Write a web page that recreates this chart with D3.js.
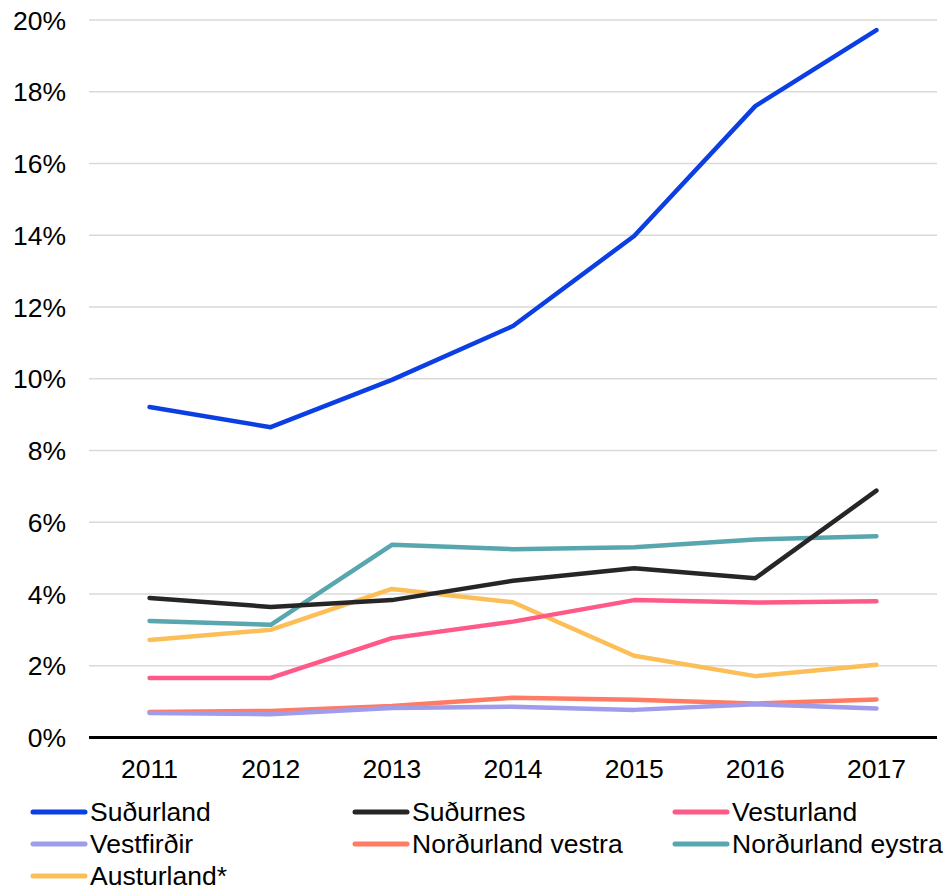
<!DOCTYPE html>
<html><head><meta charset="utf-8">
<script src="https://cdn.jsdelivr.net/npm/d3@7"></script>
<style>body{margin:0;background:#fff}svg{display:block;font-family:"Liberation Sans",Arial,sans-serif}</style>
</head><body><svg id="c" width="944" height="885"></svg>
<script>
const years = ["2011","2012","2013","2014","2015","2016","2017"];
const seriesNames = ["Suðurland","Suðurnes","Vesturland","Vestfirðir","Norðurland vestra","Norðurland eystra","Austurland*"];
const suðurland = [9.21, 8.65, 9.97, 11.47, 13.98, 17.60, 19.72];
const suðurnes = [3.89, 3.64, 3.83, 4.37, 4.72, 4.44, 6.88];
const vesturland = [1.66, 1.66, 2.77, 3.23, 3.83, 3.76, 3.80];
const vestfirðir = [0.68, 0.65, 0.82, 0.86, 0.77, 0.93, 0.81];
const norðurlandVestra = [0.71, 0.74, 0.88, 1.11, 1.05, 0.95, 1.06];
const norðurlandEystra = [3.25, 3.14, 5.37, 5.25, 5.30, 5.52, 5.61];
const austurland = [2.72, 3.00, 4.14, 3.77, 2.28, 1.71, 2.03];
const yTicks = [0,2,4,6,8,10,12,14,16,18,20];
const colors = ["#0b3fe3","#262626","#ff5a87","#9e9ceb","#ff7b64","#58a6ae","#fcbf58"];

const valuesList = [suðurland, suðurnes, vesturland, vestfirðir, norðurlandVestra, norðurlandEystra, austurland];
const series = seriesNames.map((n,i)=>({name:n, values:valuesList[i], color:colors[i]}));

const FS = "26.5px";
const svg = d3.select("#c");
const x = d3.scaleBand().domain(years).range([89, 937]);
const y = d3.scaleLinear().domain([0,20]).range([737.5, 20]);

// gridlines
svg.append("g").selectAll("line").data(yTicks.filter(t=>t>0)).join("line")
  .attr("x1",89).attr("x2",937).attr("y1",d=>y(d)).attr("y2",d=>y(d))
  .attr("stroke","#d9d9d9").attr("stroke-width",1.5);

// y axis labels
const ya = svg.append("g").attr("transform","translate(66,0)")
  .call(d3.axisLeft(y).tickValues(yTicks).tickFormat(d=>d+"%").tickSize(0).tickPadding(0));
ya.select(".domain").remove();
ya.selectAll("text").attr("font-size",FS).attr("fill","#000").attr("dy","0.34em").attr("font-family","'Liberation Sans',Arial,sans-serif");

// x axis labels
const xa = svg.append("g").attr("transform","translate(0,778)")
  .call(d3.axisBottom(x).tickSize(0).tickPadding(0));
xa.select(".domain").remove();
xa.selectAll("text").attr("font-size",FS).attr("fill","#000").attr("y",0).attr("dy","0").attr("font-family","'Liberation Sans',Arial,sans-serif");

// lines
const line = d3.line().x((d,i)=>x(years[i])+x.bandwidth()/2).y(d=>y(d));
const drawOrder = [6,5,4,3,2,1,0];
svg.append("g").selectAll("path").data(drawOrder.map(i=>series[i])).join("path")
  .attr("d",d=>line(d.values)).attr("fill","none").attr("stroke",d=>d.color)
  .attr("stroke-width",4.5).attr("stroke-linejoin","round").attr("stroke-linecap","round");

// zero axis
svg.append("line").attr("x1",89).attr("x2",937).attr("y1",y(0)).attr("y2",y(0))
  .attr("stroke","#000").attr("stroke-width",3);

// legend
const colX = [31, 353, 673];
const rowY = [812, 844, 876];
const lg = svg.append("g").selectAll("g").data(series).join("g")
  .attr("transform",(d,i)=>`translate(${colX[i%3]},${rowY[Math.floor(i/3)]})`);
lg.append("line").attr("x1",2).attr("x2",54).attr("stroke",d=>d.color).attr("stroke-width",5).attr("stroke-linecap","round");
lg.append("text").attr("x",59).attr("dy","0.35em").attr("font-size",FS).attr("fill","#000").text(d=>d.name);
</script></body></html>
